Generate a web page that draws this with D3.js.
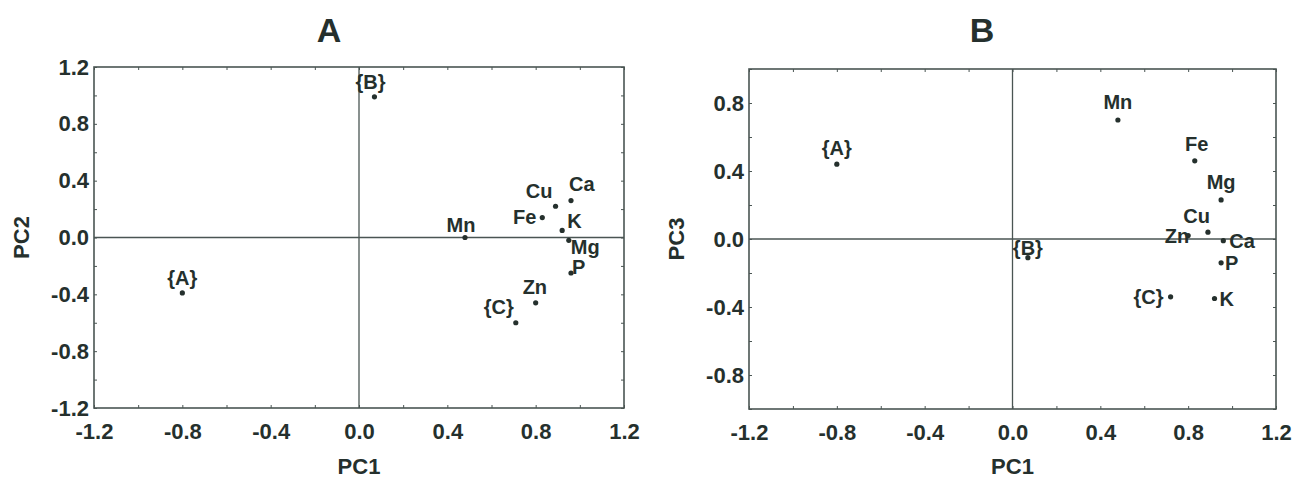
<!DOCTYPE html>
<html><head><meta charset="utf-8">
<script src="https://cdn.jsdelivr.net/npm/d3@7"></script>
<style>
html,body{margin:0;padding:0;background:#fff;}
svg text{font-family:"Liberation Sans",Arial,sans-serif;font-weight:bold;fill:#25302d;}
</style></head>
<body><svg id="c" width="1306" height="478"></svg>
<script>
// Data (loadings / scores)
const namesA = ["{A}","{B}","{C}","Mn","Fe","Cu","Ca","K","Mg","P","Zn"];
const pc1A   = [-0.80, 0.07, 0.71, 0.48, 0.83, 0.89, 0.96, 0.92, 0.95, 0.96, 0.80];
const pc2A   = [-0.39, 0.99, -0.60, 0.00, 0.14, 0.22, 0.26, 0.05, -0.02, -0.25, -0.46];

const namesB = ["{A}","{B}","{C}","Mn","Fe","Mg","Cu","Zn","Ca","P","K"];
const pc1B   = [-0.80, 0.07, 0.72, 0.48, 0.83, 0.95, 0.89, 0.80, 0.96, 0.95, 0.92];
const pc3B   = [0.44, -0.11, -0.34, 0.70, 0.46, 0.23, 0.04, 0.02, -0.01, -0.14, -0.35];

const xTicks = [-1.2,-0.8,-0.4,0.0,0.4,0.8,1.2];
const yTicksA = [-1.2,-0.8,-0.4,0.0,0.4,0.8,1.2];
const yTicksB = [-0.8,-0.4,0.0,0.4,0.8];

// label placement (anchor, dx, dy) relative to point
const placeA = {"{A}":["middle",0,-8],"{B}":["middle",-4,-8],"{C}":["end",-2,-9],"Mn":["middle",-4,-6],
  "Fe":["end",-6,6],"Cu":["end",-3,-8],"Ca":["start",-2,-10],"K":["start",5,-2],"Mg":["start",2,14],
  "P":["start",1,1],"Zn":["start",-13,-9]};
const placeB = {"{A}":["middle",0,-9],"{B}":["middle",0,-3],"{C}":["end",-7,7],"Mn":["middle",0,-11],
  "Fe":["middle",2,-10],"Mg":["middle",0,-11],"Cu":["end",2,-9],"Zn":["end",1,7],"Ca":["start",6,7],
  "P":["start",4,7],"K":["start",5,7]};

const svg = d3.select("#c");
const fmt = v => Math.abs(v) < 1e-9 ? "0.0" : v.toFixed(1);
const minor = d3.range(-12, 13, 2).map(v => v/10);
const TXT = "#25302d";

function panel(cfg){
  const x = d3.scaleLinear().domain([-1.2,1.2]).range([cfg.x0,cfg.x1]);
  const y = d3.scaleLinear().domain(cfg.ydom).range([cfg.y1,cfg.y0]);
  const g = svg.append("g");
  const col = "#4a5553";
  const yMinor = minor.filter(v => v >= cfg.ydom[0]-1e-9 && v <= cfg.ydom[1]+1e-9);
  const tk = a => {a.select(".domain").remove(); a.selectAll("line").attr("stroke",col);};
  g.append("g").attr("transform",`translate(0,${cfg.y1})`)
    .call(d3.axisBottom(x).tickValues(minor).tickSize(-3).tickFormat("")).call(tk);
  g.append("g").attr("transform",`translate(0,${cfg.y0})`)
    .call(d3.axisTop(x).tickValues(minor).tickSize(-3).tickFormat("")).call(tk);
  g.append("g").attr("transform",`translate(${cfg.x0},0)`)
    .call(d3.axisLeft(y).tickValues(yMinor).tickSize(-3).tickFormat("")).call(tk);
  g.append("g").attr("transform",`translate(${cfg.x1},0)`)
    .call(d3.axisRight(y).tickValues(yMinor).tickSize(-3).tickFormat("")).call(tk);
  const lab = a => {a.select(".domain").remove(); a.selectAll("text").attr("font-size",22).attr("fill",TXT)
      .attr("font-family","Liberation Sans, Arial, sans-serif").attr("font-weight","bold");};
  g.append("g").attr("transform",`translate(0,${cfg.y1})`)
    .call(d3.axisBottom(x).tickValues(xTicks).tickSize(0).tickPadding(15).tickFormat(fmt)).call(lab);
  g.append("g").attr("transform",`translate(${cfg.x0},0)`)
    .call(d3.axisLeft(y).tickValues(cfg.yticks).tickSize(0).tickPadding(5).tickFormat(fmt)).call(lab);
  g.append("rect").attr("x",x(-1.2)).attr("y",y(cfg.ydom[1])).attr("width",x(1.2)-x(-1.2))
    .attr("height",y(cfg.ydom[0])-y(cfg.ydom[1])).attr("fill","none").attr("stroke",col).attr("stroke-width",1.6);
  g.append("line").attr("x1",x(-1.2)).attr("x2",x(1.2)).attr("y1",y(0)).attr("y2",y(0)).attr("stroke",col).attr("stroke-width",1.3);
  g.append("line").attr("x1",x(0)).attr("x2",x(0)).attr("y1",y(cfg.ydom[0])).attr("y2",y(cfg.ydom[1])).attr("stroke",col).attr("stroke-width",1.3);
  const pts = cfg.names.map((n,i)=>({n, px:cfg.xs[i], py:cfg.ys[i]}));
  g.selectAll("circle.p").data(pts).join("circle").attr("cx",d=>x(d.px)).attr("cy",d=>y(d.py)).attr("r",2.6).attr("fill",TXT);
  g.selectAll("text.lbl").data(pts).join("text")
    .attr("x",d=>x(d.px)+cfg.place[d.n][1]).attr("y",d=>y(d.py)+cfg.place[d.n][2])
    .attr("text-anchor",d=>cfg.place[d.n][0]).attr("font-size",20).text(d=>d.n);
  g.append("text").attr("x",cfg.tx).attr("y",42).attr("text-anchor","middle").attr("font-size",34).text(cfg.title);
  g.append("text").attr("x",x(0)).attr("y",474).attr("text-anchor","middle").attr("font-size",22).text("PC1");
  g.append("text").attr("transform",`translate(${cfg.x0-65},${(cfg.y0+cfg.y1)/2}) rotate(-90)`)
    .attr("text-anchor","middle").attr("font-size",22).text(cfg.ylab);
}

panel({x0:94,x1:624,y0:67,y1:408,ydom:[-1.2,1.2],yticks:yTicksA,names:namesA,xs:pc1A,ys:pc2A,
  place:placeA,title:"A",tx:329,ylab:"PC2"});
panel({x0:749,x1:1276,y0:69,y1:409,ydom:[-1.0,1.0],yticks:yTicksB,names:namesB,xs:pc1B,ys:pc3B,
  place:placeB,title:"B",tx:982,ylab:"PC3"});
</script></body></html>
